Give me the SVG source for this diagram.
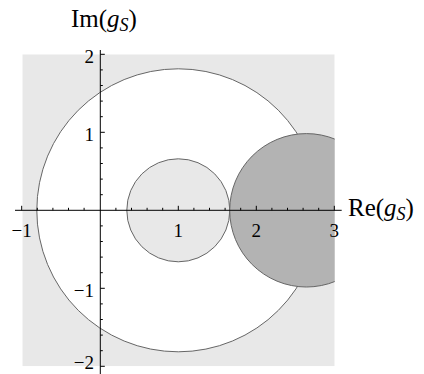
<svg xmlns="http://www.w3.org/2000/svg" width="424" height="374" viewBox="0 0 424 374">
<style>
.lbl{font-family:"Liberation Serif","DejaVu Serif",serif;font-size:25px;fill:#000}
.tk{font-family:"Liberation Serif","DejaVu Serif",serif;font-size:19px;fill:#000}
.it{font-style:italic}
.edge{stroke:#666;stroke-width:1}
.ax{stroke:#000;stroke-width:1;fill:none}
</style>
<defs>
<clipPath id="plot"><rect x="22.3" y="54.3" width="312.4" height="312"/></clipPath>
</defs>
<rect width="424" height="374" fill="#fff"/>
<g id="region" clip-path="url(#plot)">
<rect x="22.3" y="54.3" width="312.4" height="312" fill="#e8e8e8"/>
<circle id="outer" class="edge" cx="178.3" cy="210.3" r="141.5" fill="#fff"/>
<circle id="inner" class="edge" cx="178.3" cy="210.3" r="51.5" fill="#e8e8e8"/>
<circle id="dark" class="edge" cx="306.4" cy="210.3" r="76.7" fill="#b3b3b3"/>
</g>
<g id="axes">
<path class="ax" d="M15 210.3H341.7M100.3 50V374"/>
<path class="ax" d="M21.7 210.3v-4.5M178.3 210.3v-4.5M256.3 210.3v-4.5M334.3 210.3v-4.5
M37.3 210.3v-2.5M52.9 210.3v-2.5M68.5 210.3v-2.5M84.1 210.3v-2.5
M115.9 210.3v-2.5M131.5 210.3v-2.5M147.1 210.3v-2.5M162.7 210.3v-2.5
M193.9 210.3v-2.5M209.5 210.3v-2.5M225.1 210.3v-2.5M240.7 210.3v-2.5
M271.9 210.3v-2.5M287.5 210.3v-2.5M303.1 210.3v-2.5M318.7 210.3v-2.5"/>
<path class="ax" d="M100.3 54.3h4.5M100.3 132.3h4.5M100.3 288.3h4.5M100.3 366.3h4.5
M100.3 69.9h2.5M100.3 85.5h2.5M100.3 101.1h2.5M100.3 116.7h2.5
M100.3 147.9h2.5M100.3 163.5h2.5M100.3 179.1h2.5M100.3 194.7h2.5
M100.3 225.9h2.5M100.3 241.5h2.5M100.3 257.1h2.5M100.3 272.7h2.5
M100.3 303.9h2.5M100.3 319.5h2.5M100.3 335.1h2.5M100.3 350.7h2.5"/>
</g>
<g id="ticklabels">
<text class="tk" x="21.7" y="237" text-anchor="middle">−1</text>
<text class="tk" x="178.3" y="237" text-anchor="middle">1</text>
<text class="tk" x="256.3" y="237" text-anchor="middle">2</text>
<text class="tk" x="334.3" y="237" text-anchor="middle">3</text>
<text class="tk" x="94" y="62.7" text-anchor="end">2</text>
<text class="tk" x="94" y="140.7" text-anchor="end">1</text>
<text class="tk" x="94" y="296.7" text-anchor="end">−1</text>
<text class="tk" x="94" y="369" text-anchor="end">−2</text>
</g>
<g id="labels">
<text class="lbl" x="71" y="27">Im(<tspan class="it">g</tspan><tspan class="it" font-size="18" dy="4">S</tspan><tspan dy="-4">)</tspan></text>
<text class="lbl" x="348" y="216">Re(<tspan class="it">g</tspan><tspan class="it" font-size="18" dy="4">S</tspan><tspan dy="-4">)</tspan></text>
</g>
</svg>
